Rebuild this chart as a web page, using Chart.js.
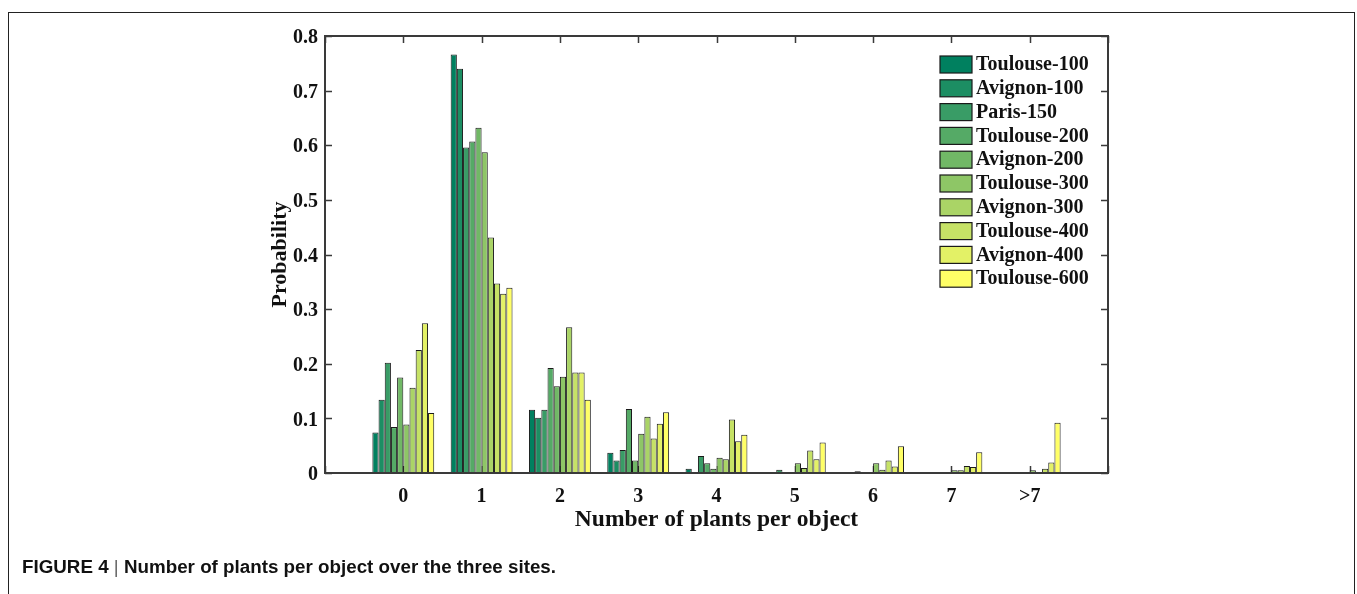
<!DOCTYPE html>
<html>
<head>
<meta charset="utf-8">
<script src="https://cdn.jsdelivr.net/npm/chart.js@4.4.0/dist/chart.umd.min.js"></script>
<style>
  html, body { margin: 0; padding: 0; background: #fff; }
  #wrap { position: relative; width: 1357px; height: 594px; overflow: hidden; }
  #chart { position: absolute; left: 0; top: 0; }
  #frame { position: absolute; left: 8px; top: 12px; width: 1345px; height: 600px;
           border: 1.5px solid #222; border-bottom: none; pointer-events: none; }
  #caption { position: absolute; left: 22px; top: 556px; font-family: 'Liberation Sans', Arial, sans-serif;
             font-weight: bold; font-size: 18.8px; color: #111; white-space: nowrap; }
  #caption .sep { font-weight: normal; color: #666; }
</style>
</head>
<body>
<div id="wrap">
  <canvas id="chart" width="1357" height="594"></canvas>
  <div id="frame"></div>
  <div id="caption">FIGURE 4 <span class="sep">|</span> Number of plants per object over the three sites.</div>
</div>
<script>
const categories = ['0', '1', '2', '3', '4', '5', '6', '7', '>7'];
const yTicks = [0, 0.1, 0.2, 0.3, 0.4, 0.5, 0.6, 0.7, 0.8];

const seriesNames = ['Toulouse-100', 'Avignon-100', 'Paris-150', 'Toulouse-200', 'Avignon-200',
                     'Toulouse-300', 'Avignon-300', 'Toulouse-400', 'Avignon-400', 'Toulouse-600'];

const toulouse100 = [0.074, 0.766, 0.116, 0.037, 0.008, 0.001, 0.001, 0.001, 0.001];
const avignon100  = [0.134, 0.740, 0.101, 0.023, 0.000, 0.001, 0.001, 0.001, 0.001];
const paris150    = [0.202, 0.596, 0.116, 0.042, 0.031, 0.006, 0.003, 0.001, 0.001];
const toulouse200 = [0.084, 0.607, 0.192, 0.117, 0.018, 0.000, 0.000, 0.000, 0.000];
const avignon200  = [0.175, 0.632, 0.159, 0.023, 0.008, 0.001, 0.000, 0.001, 0.001];
const toulouse300 = [0.089, 0.587, 0.176, 0.072, 0.028, 0.018, 0.018, 0.005, 0.005];
const avignon300  = [0.156, 0.431, 0.267, 0.103, 0.025, 0.009, 0.006, 0.005, 0.000];
const toulouse400 = [0.225, 0.347, 0.184, 0.063, 0.098, 0.041, 0.023, 0.013, 0.008];
const avignon400  = [0.274, 0.328, 0.184, 0.090, 0.058, 0.025, 0.012, 0.011, 0.019];
const toulouse600 = [0.110, 0.339, 0.134, 0.111, 0.070, 0.056, 0.049, 0.038, 0.092];

const seriesValues = [toulouse100, avignon100, paris150, toulouse200, avignon200,
                      toulouse300, avignon300, toulouse400, avignon400, toulouse600];

// matlab "summer" colours
const colors = ['#00805f', '#1c8e63', '#399c66', '#55aa66', '#71b866',
                '#8ec666', '#aad466', '#c6e266', '#e3f166', '#ffff66'];

const serif = "'Liberation Serif', 'Times New Roman', serif";

// empty slot on both sides so the categories sit like the matlab axis (-1 .. 9)
const labels = ['', ...categories, ''];

const datasets = seriesNames.map((name, i) => ({
    label: name,
    data: [null, ...seriesValues[i], null],
    backgroundColor: colors[i],
    borderColor: '#1a1a1a',
    borderWidth: 1,
    borderSkipped: false,
    categoryPercentage: 0.79,
    barPercentage: 1.0,
}));

const axisColor = '#3a3a3a';

const boxTicks = {
    id: 'boxTicks',
    beforeDatasetsDraw(chart) {
        const { ctx, chartArea: a, scales: { x, y } } = chart;
        ctx.save();
        ctx.strokeStyle = axisColor;
        ctx.lineWidth = 1.5;
        ctx.beginPath();
        y.ticks.forEach(t => {
            const py = Math.round(y.getPixelForValue(t.value)) + 0.5;
            ctx.moveTo(a.left, py); ctx.lineTo(a.left + 7, py);
            ctx.moveTo(a.right, py); ctx.lineTo(a.right - 7, py);
        });
        x.ticks.forEach((t, i) => {
            const px = Math.round(x.getPixelForTick(i)) + 0.5;
            ctx.moveTo(px, a.top); ctx.lineTo(px, a.top + 7);
            ctx.moveTo(px, a.bottom); ctx.lineTo(px, a.bottom - 7);
        });
        ctx.stroke();
        ctx.restore();
    },
    afterDatasetsDraw(chart) {
        const { ctx, chartArea: a } = chart;
        ctx.save();
        ctx.strokeStyle = axisColor;
        ctx.lineWidth = 2;
        ctx.strokeRect(a.left, a.top, a.right - a.left, a.bottom - a.top);
        ctx.restore();
    }
};

const boxLegend = {
    id: 'boxLegend',
    afterDraw(chart) {
        const { ctx } = chart;
        ctx.save();
        ctx.font = 'bold 20px ' + serif;
        ctx.textBaseline = 'middle';
        ctx.textAlign = 'left';
        chart.data.datasets.forEach((ds, i) => {
            const top = 56 + i * 23.8;
            ctx.fillStyle = ds.backgroundColor;
            ctx.fillRect(940, top, 32, 17);
            ctx.strokeStyle = '#1a1a1a';
            ctx.lineWidth = 1.2;
            ctx.strokeRect(940, top, 32, 17);
            ctx.fillStyle = '#111';
            ctx.fillText(ds.label, 976, top + 9);
        });
        ctx.restore();
    }
};

new Chart(document.getElementById('chart'), {
    type: 'bar',
    data: { labels, datasets },
    options: {
        responsive: false,
        animation: false,
        layout: { padding: { left: 263, right: 249, top: 36, bottom: 56 } },
        scales: {
            x: {
                offset: false,
                grid: { display: false, drawTicks: false },
                border: { display: false },
                ticks: {
                    color: '#111', padding: 12, maxRotation: 0, autoSkip: false,
                    font: { family: serif, size: 20, weight: 'bold' }
                },
                title: {
                    display: true, text: 'Number of plants per object', color: '#111',
                    font: { family: serif, size: 23.5, weight: 'bold' }
                },
                afterFit(scale) { scale.height = 65; }
            },
            y: {
                min: 0, max: 0.8,
                afterBuildTicks(scale) { scale.ticks = yTicks.map(v => ({ value: v })); },
                grid: { display: false, drawTicks: false },
                border: { display: false },
                ticks: {
                    color: '#111', padding: 7, labelOffset: 2,
                    font: { family: serif, size: 20, weight: 'bold' },
                    callback: v => String(v)
                },
                title: {
                    display: true, text: 'Probability', color: '#111',
                    font: { family: serif, size: 22, weight: 'bold' }
                },
                afterFit(scale) { scale.width = 62; }
            }
        },
        plugins: {
            legend: { display: false },
            tooltip: { enabled: false }
        }
    },
    plugins: [boxTicks, boxLegend]
});
</script>
</body>
</html>
